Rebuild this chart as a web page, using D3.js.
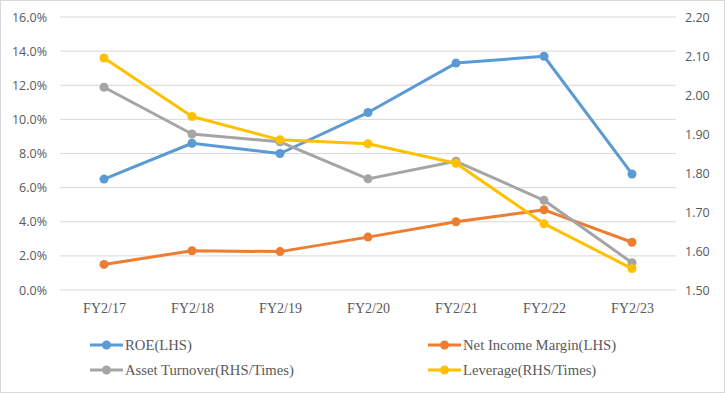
<!DOCTYPE html>
<html>
<head>
<meta charset="utf-8">
<script src="https://cdn.jsdelivr.net/npm/d3@7"></script>
<style>
  body { margin: 0; background: #fff; }
  svg { display: block; }
  .serif { font-family: "Liberation Serif", "Times New Roman", "DejaVu Serif", serif; }
  .sans { font-family: "Open Sans", "Liberation Sans", sans-serif; }
</style>
</head>
<body>
<div id="chart"></div>
<script>
// data
let years = ["FY2/17", "FY2/18", "FY2/19", "FY2/20", "FY2/21", "FY2/22", "FY2/23"];
let roe = [6.5, 8.6, 8.0, 10.4, 13.3, 13.7, 6.8];
let netIncomeMargin = [1.5, 2.3, 2.25, 3.1, 4.0, 4.7, 2.8];
let assetTurnover = [2.02, 1.90, 1.88, 1.785, 1.83, 1.73, 1.57];
let leverage = [2.095, 1.945, 1.885, 1.875, 1.825, 1.67, 1.555];
let leftTicks = [0, 2, 4, 6, 8, 10, 12, 14, 16];
let rightTicks = [1.5, 1.6, 1.7, 1.8, 1.9, 2.0, 2.1, 2.2];

function line_chart() {
    let W = 725, H = 393;
    let margin = {top: 17, right: 49, bottom: 103, left: 60},
        width = W - margin.left - margin.right,
        height = H - margin.top - margin.bottom;

    let svg = d3.select("#chart")
        .append("svg")
        .attr("width", W)
        .attr("height", H);

    // outer border
    svg.append("rect")
        .attr("x", 0.5).attr("y", 0.5)
        .attr("width", W - 1).attr("height", H - 1)
        .attr("fill", "#fff")
        .attr("stroke", "#d9d9d9");

    let g = svg.append("g")
        .attr("transform", "translate(" + margin.left + "," + margin.top + ")");

    let x = d3.scalePoint()
        .domain(years)
        .range([0, width])
        .padding(0.5);

    let yL = d3.scaleLinear().domain([0, 16]).range([height, 0]);
    let yR = d3.scaleLinear().domain([1.5, 2.2]).range([height, 0]);

    // gridlines
    g.append("g")
        .selectAll("line")
        .data(leftTicks)
        .enter()
        .append("line")
        .attr("x1", 0).attr("x2", width)
        .attr("y1", d => yL(d)).attr("y2", d => yL(d))
        .attr("stroke", "#d9d9d9")
        .attr("stroke-width", 1);

    // left axis
    let axL = g.append("g")
        .call(d3.axisLeft(yL).tickValues(leftTicks).tickFormat(d => d.toFixed(1) + "%").tickSize(0).tickPadding(13));
    axL.select(".domain").remove();
    axL.selectAll("text")
        .attr("class", "sans")
        .attr("fill", "#595959")
        .style("font-size", "12.5px");

    // right axis
    let axR = g.append("g")
        .attr("transform", "translate(" + width + ",0)")
        .call(d3.axisRight(yR).tickValues(rightTicks).tickFormat(d3.format(".2f")).tickSize(0).tickPadding(9));
    axR.select(".domain").remove();
    axR.selectAll("text")
        .attr("class", "sans")
        .attr("fill", "#595959")
        .style("font-size", "12.5px");

    // x axis labels
    let axX = g.append("g")
        .attr("transform", "translate(0," + height + ")")
        .call(d3.axisBottom(x).tickSize(0).tickPadding(13));
    axX.select(".domain").remove();
    axX.selectAll("text")
        .attr("class", "serif")
        .attr("fill", "#595959")
        .style("font-size", "14px");

    let series = [
        {name: "ROE(LHS)", values: roe, y: yL, color: "#5b9bd5"},
        {name: "Net Income Margin(LHS)", values: netIncomeMargin, y: yL, color: "#ed7d31"},
        {name: "Asset Turnover(RHS/Times)", values: assetTurnover, y: yR, color: "#a5a5a5"},
        {name: "Leverage(RHS/Times)", values: leverage, y: yR, color: "#ffc000"}
    ];

    series.forEach(function (s) {
        let line = d3.line()
            .x((d, i) => x(years[i]))
            .y(d => s.y(d));
        g.append("path")
            .datum(s.values)
            .attr("fill", "none")
            .attr("stroke", s.color)
            .attr("stroke-width", 3)
            .attr("stroke-linejoin", "round")
            .attr("d", line);
        g.append("g")
            .selectAll("circle")
            .data(s.values)
            .enter()
            .append("circle")
            .attr("cx", (d, i) => x(years[i]))
            .attr("cy", d => s.y(d))
            .attr("r", 4.5)
            .attr("fill", s.color);
    });

    // legend
    let legendPos = [[90, 345], [428, 345], [90, 370], [428, 370]];
    series.forEach(function (s, i) {
        let lg = svg.append("g")
            .attr("transform", "translate(" + legendPos[i][0] + "," + legendPos[i][1] + ")");
        lg.append("line")
            .attr("x1", 0).attr("x2", 33)
            .attr("y1", 0).attr("y2", 0)
            .attr("stroke", s.color)
            .attr("stroke-width", 3);
        lg.append("circle")
            .attr("cx", 16.5).attr("cy", 0)
            .attr("r", 4.5)
            .attr("fill", s.color);
        lg.append("text")
            .attr("class", "serif")
            .attr("x", 35).attr("y", 0)
            .attr("dy", "0.35em")
            .attr("fill", "#595959")
            .style("font-size", "14.7px")
            .text(s.name);
    });
}

line_chart();
</script>
</body>
</html>
